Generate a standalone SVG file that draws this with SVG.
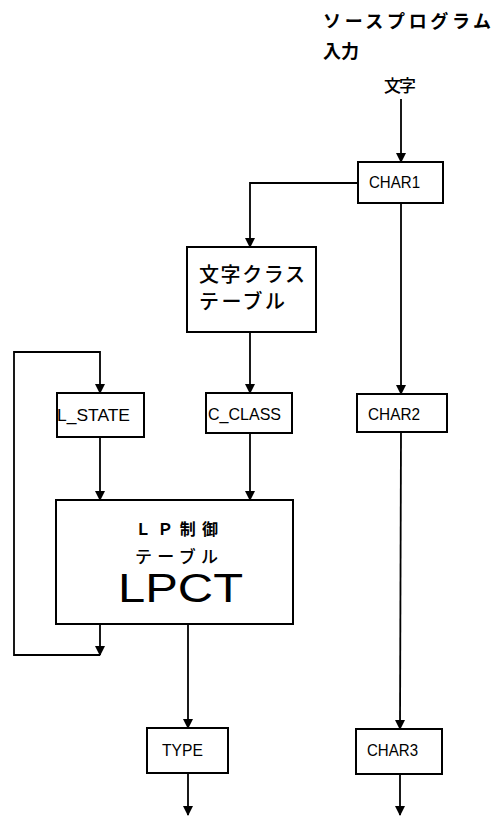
<svg xmlns="http://www.w3.org/2000/svg" width="500" height="817" viewBox="0 0 500 817">
<defs>
<marker id="ah" markerWidth="10" markerHeight="14" refX="9" refY="5" orient="auto" markerUnits="userSpaceOnUse">
<path d="M0,0 L10,5 L0,10 Z" fill="#000"/>
</marker>
<style>
.box{fill:#fff;stroke:#000;stroke-width:2}
.ln{fill:none;stroke:#000;stroke-width:1.8;marker-end:url(#ah)}
.lbl{font-family:"Liberation Sans","DejaVu Sans",sans-serif;font-size:17px;fill:#000}
.jp{font-family:"Noto Sans CJK JP",sans-serif;fill:#000}
</style>
</defs>
<rect width="500" height="817" fill="#fff"/>
<g id="title">
<text class="jp" x="323" y="28" font-size="18" font-weight="700" textLength="168" lengthAdjust="spacing">ソースプログラム</text>
<text class="jp" x="323" y="58" font-size="18" font-weight="700" textLength="36" lengthAdjust="spacing">入力</text>
<text class="jp" x="384" y="92" font-size="17" font-weight="500" textLength="32" lengthAdjust="spacing">文字</text>
</g>
<g id="connectors">
<line class="ln" x1="401" y1="99" x2="401" y2="162"/>
<polyline class="ln" points="358,183 250,183 250,247"/>
<line class="ln" x1="401" y1="203" x2="401" y2="394"/>
<line class="ln" x1="250" y1="332" x2="250" y2="393"/>
<polyline class="ln" points="100,655 14,655 14,352 100,352 100,393"/>
<line class="ln" x1="100" y1="625" x2="100" y2="655"/>
<line class="ln" x1="100" y1="437" x2="100" y2="500"/>
<line class="ln" x1="250" y1="432" x2="250" y2="500"/>
<line class="ln" x1="188" y1="624" x2="188" y2="728"/>
<line class="ln" x1="401" y1="432" x2="400" y2="729"/>
<line class="ln" x1="188" y1="773" x2="188" y2="815"/>
<line class="ln" x1="400" y1="774" x2="400" y2="815"/>
</g>
<g id="char1">
<rect class="box" x="358" y="162" width="85" height="41"/>
<text class="lbl" x="369" y="188" textLength="51" lengthAdjust="spacingAndGlyphs">CHAR1</text>
</g>
<g id="charclass">
<rect class="box" x="187" y="247" width="129" height="85"/>
<text class="jp" x="199" y="282" font-size="20" font-weight="500" textLength="106" lengthAdjust="spacing">文字クラス</text>
<text class="jp" x="199" y="309" font-size="20" font-weight="500" textLength="86" lengthAdjust="spacing">テーブル</text>
</g>
<g id="lstate">
<rect class="box" x="57" y="393" width="87" height="44"/>
<text class="lbl" x="57" y="421" textLength="73" lengthAdjust="spacingAndGlyphs">L_STATE</text>
</g>
<g id="cclass">
<rect class="box" x="206" y="393" width="86" height="40"/>
<text class="lbl" x="208" y="420" textLength="73" lengthAdjust="spacingAndGlyphs">C_CLASS</text>
</g>
<g id="char2">
<rect class="box" x="357" y="394" width="90" height="38"/>
<text class="lbl" x="368" y="420" textLength="52" lengthAdjust="spacingAndGlyphs">CHAR2</text>
</g>
<g id="lpct">
<rect class="box" x="56" y="500" width="237" height="124"/>
<text class="jp" x="135" y="535" font-size="16" font-weight="700" textLength="83" lengthAdjust="spacing">ＬＰ制御</text>
<text class="jp" x="135" y="563" font-size="17" font-weight="500" textLength="83" lengthAdjust="spacing">テーブル</text>
<text x="118" y="602" font-family="Liberation Sans,sans-serif" font-size="40" textLength="125" lengthAdjust="spacingAndGlyphs">LPCT</text>
</g>
<g id="type">
<rect class="box" x="147" y="728" width="81" height="45"/>
<text class="lbl" x="162" y="756" textLength="41" lengthAdjust="spacingAndGlyphs">TYPE</text>
</g>
<g id="char3">
<rect class="box" x="356" y="729" width="86" height="45"/>
<text class="lbl" x="367" y="756" textLength="51" lengthAdjust="spacingAndGlyphs">CHAR3</text>
</g>
</svg>
